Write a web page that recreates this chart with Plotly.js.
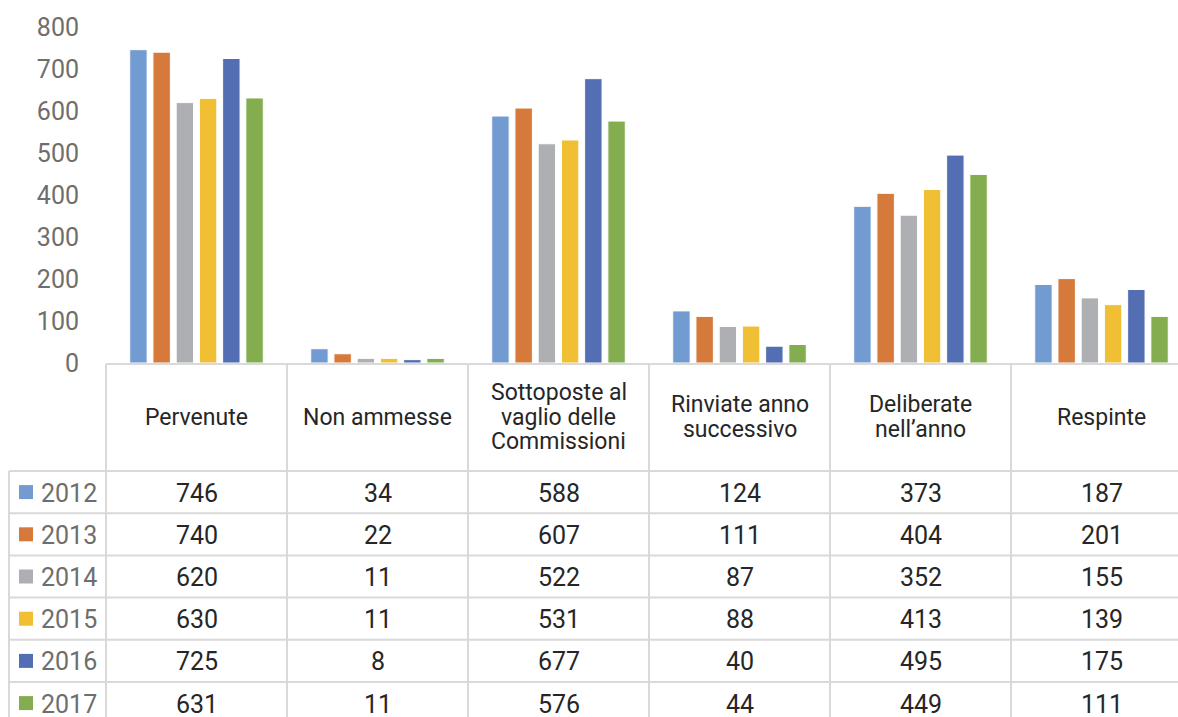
<!DOCTYPE html>
<html>
<head>
<meta charset="utf-8">
<script src="https://cdn.plot.ly/plotly-3.0.1.min.js"></script>
<style>html,body{margin:0;padding:0;background:#fff;}#chart{width:1178px;height:717px;}</style>
</head>
<body>
<div id="chart"></div>
<script>
const categories = ['Pervenute', 'Non ammesse', 'Sottoposte al<br>vaglio delle<br>Commissioni', 'Rinviate anno<br>successivo', 'Deliberate<br>nell\u2019anno', 'Respinte'];
const years = ['2012', '2013', '2014', '2015', '2016', '2017'];
const v2012 = [746, 34, 588, 124, 373, 187];
const v2013 = [740, 22, 607, 111, 404, 201];
const v2014 = [620, 11, 522, 87, 352, 155];
const v2015 = [630, 11, 531, 88, 413, 139];
const v2016 = [725, 8, 677, 40, 495, 175];
const v2017 = [631, 11, 576, 44, 449, 111];
const seriesValues = [v2012, v2013, v2014, v2015, v2016, v2017];
const colors = ['#729BD1', '#D57A3B', '#AEAFB2', '#F0BF33', '#536EB3', '#84AD4F'];
const yTicks = [0, 100, 200, 300, 400, 500, 600, 700, 800];

// geometry (pixels)
const W = 1178, H = 717;
const plotL = 106, plotT = 27, plotB = 363;
const plotH = plotB - plotT, plotW = W - plotL;
const colW = 181;
const py = p => (plotB - p) / plotH;          // pixel y -> paper y
const px = p => (p - plotL) / plotW;          // pixel x -> paper x
const gridColor = '#D9D9D9';
const rowTop = 471, rowH = 42.2;
const FONT = 'Roboto, sans-serif';

const xIdx = categories.map((c, i) => i);

const traces = seriesValues.map((vals, k) => ({
  type: 'bar',
  name: years[k],
  x: xIdx,
  y: vals,
  marker: {color: colors[k], line: {color: '#ffffff', width: 1}},
  hoverinfo: 'x+y+name',
  showlegend: false
}));

const shapes = [];
const annotations = [];
const line = (x0, y0, x1, y1) => ({
  type: 'line', xref: 'paper', yref: 'paper',
  x0: x0, y0: y0, x1: x1, y1: y1,
  line: {color: gridColor, width: 2}, layer: 'above'
});

// top border of table (under category axis)
shapes.push(line(0, py(plotB + 1), 1, py(plotB + 1)));
// vertical left border of header/data area
shapes.push(line(0, py(plotB + 1), 0, py(H + 10)));
// category column separators
for (let i = 0; i < categories.length - 1; i++) {
  shapes.push({type: 'line', xref: 'x', yref: 'paper', x0: i + 0.5, x1: i + 0.5,
    y0: py(plotB + 1), y1: py(H + 10), line: {color: gridColor, width: 2}, layer: 'above'});
}
// horizontal row lines (span legend column too)
for (let r = 0; r <= years.length; r++) {
  const yy = rowTop + r * rowH;
  shapes.push(line(px(9), py(yy), 1, py(yy)));
}
// left border of legend column
shapes.push(line(px(9), py(rowTop), px(9), py(H + 10)));

// header labels (one annotation per wrapped line)
const headerCenter = 417, headerLine = 24.5;
categories.forEach((c, i) => {
  const parts = c.split('<br>');
  parts.forEach((t, j) => {
    const cy = headerCenter + (j - (parts.length - 1) / 2) * headerLine;
    annotations.push({xref: 'x', yref: 'paper', x: i, y: py(cy), text: t,
      showarrow: false, xanchor: 'center', yanchor: 'middle', align: 'center',
      font: {family: FONT, size: 23, color: '#262626'}});
  });
});

// data rows
years.forEach((yr, r) => {
  const cy = rowTop + r * rowH + rowH / 2 + 1;
  // legend key
  shapes.push({type: 'rect', xref: 'paper', yref: 'paper',
    x0: px(19), x1: px(33), y0: py(cy - 8), y1: py(cy + 6),
    fillcolor: colors[r], line: {width: 0}, layer: 'above'});
  annotations.push({xref: 'paper', yref: 'paper', x: px(39), y: py(cy), text: yr,
    showarrow: false, xanchor: 'left', yanchor: 'middle',
    font: {family: FONT, size: 25, color: '#6E6E6E'}});
  seriesValues[r].forEach((v, i) => {
    annotations.push({xref: 'x', yref: 'paper', x: i, y: py(cy), text: String(v),
      showarrow: false, xanchor: 'center', yanchor: 'middle',
      font: {family: FONT, size: 25, color: '#262626'}});
  });
});

const layout = {
  width: W, height: H,
  margin: {l: plotL, r: 0, t: plotT, b: H - plotB, pad: 0},
  paper_bgcolor: '#ffffff', plot_bgcolor: '#ffffff',
  barmode: 'group', bargap: 0.23, bargroupgap: 0.25,
  xaxis: {type: 'linear', range: [-0.5, -0.5 + plotW / colW], showticklabels: false,
    showgrid: false, zeroline: false, showline: false, ticks: '', fixedrange: true},
  yaxis: {range: [0, 800], tickvals: yTicks, ticktext: yTicks.map(String),
    showgrid: false, zeroline: false, showline: false, ticks: '',
    ticklabelstandoff: 26,
    tickfont: {family: FONT, size: 25, color: '#6E6E6E'}},
  shapes: shapes,
  annotations: annotations,
  font: {family: FONT}
};

Plotly.newPlot('chart', traces, layout, {displayModeBar: false, staticPlot: true});
</script>
</body>
</html>
